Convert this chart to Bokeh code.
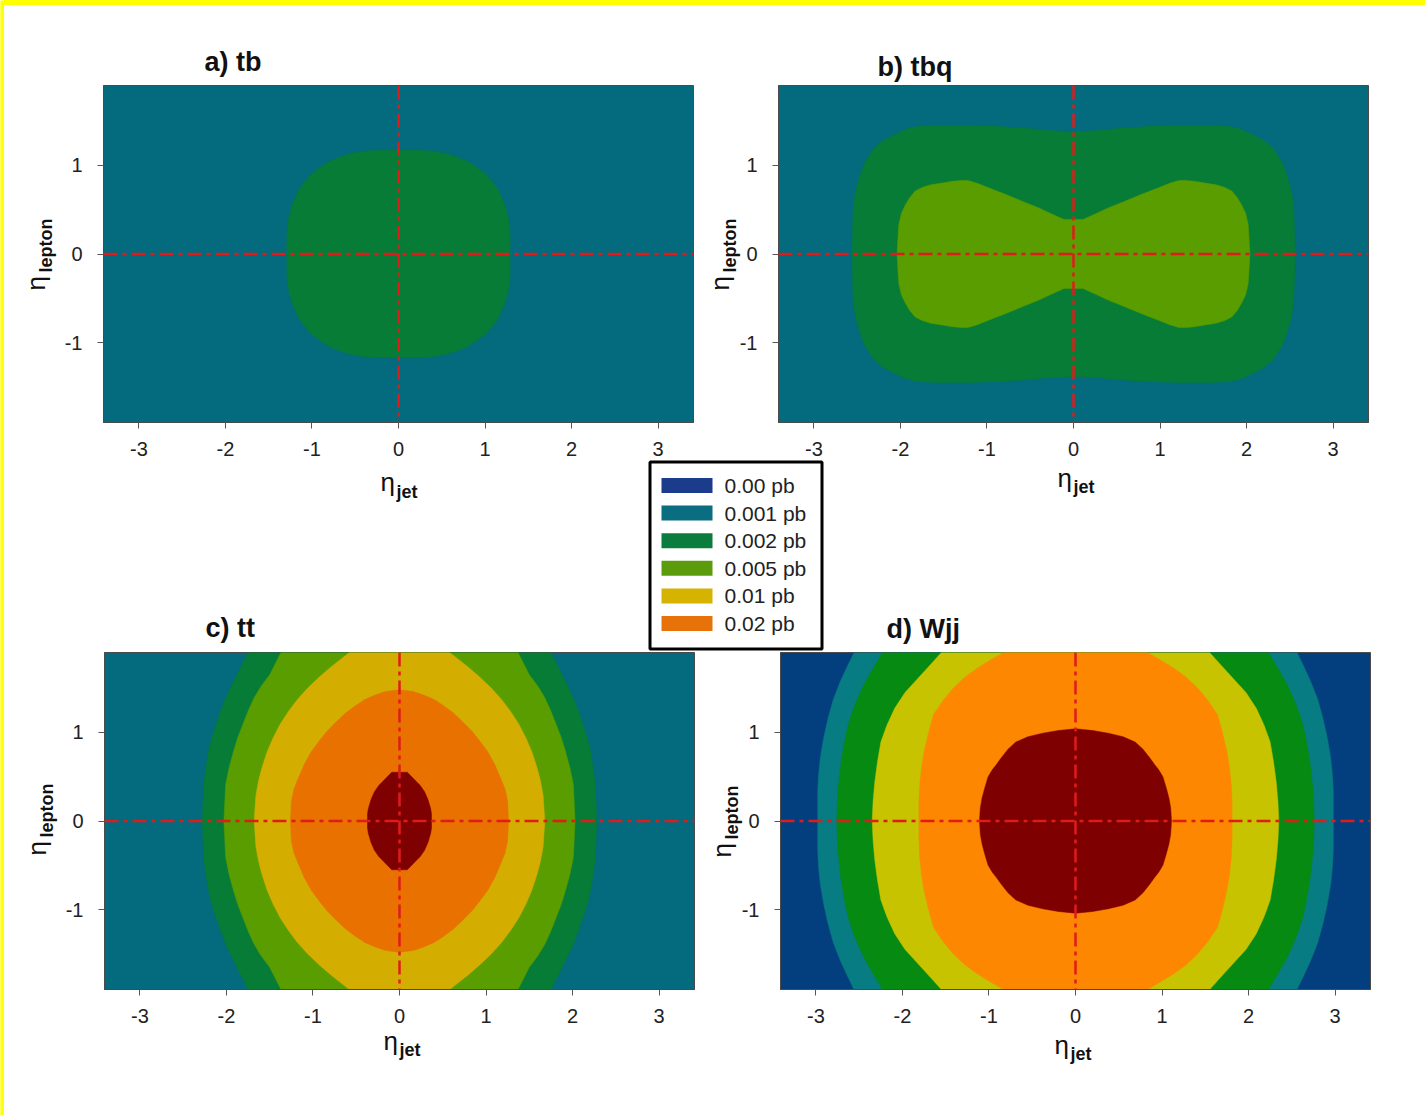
import math
from bokeh.plotting import figure
from bokeh.layouts import column, row
from bokeh.models import Range1d, Span, Div
from bokeh.core.properties import value
from bokeh.embed import file_html
from bokeh.resources import INLINE

# ---------------- data ----------------
X_TICKS = [-3, -2, -1, 0, 1, 2, 3]
X_TICK_LABELS = ["-3", "-2", "-1", "0", "1", "2", "3"]
Y_TICKS = [-1, 0, 1]
Y_TICK_LABELS = ["-1", "0", "1"]

TITLES = ["a) tb", "b) tbq", "c) tt", "d) Wjj"]
X_LABEL = ("η", "jet")
Y_LABEL = ("η", "lepton")

LEGEND_LABELS = ["0.00 pb", "0.001 pb", "0.002 pb", "0.005 pb", "0.01 pb", "0.02 pb"]
LEGEND_COLORS = ["#1b3b8b", "#0b6d80", "#0a7c3e", "#5b9c0c", "#d5b300", "#e8720a"]

# contour boundaries: first-quadrant points (eta_jet, eta_lepton), mirrored to all quadrants
# a) tb
TB_002_X = [1.29, 1.29, 1.27, 1.25, 1.21, 1.16, 1.09, 1.01, 0.90, 0.79, 0.66, 0.52, 0.38, 0.26, 0.0]
TB_002_Y = [0.0, 0.26, 0.40, 0.49, 0.60, 0.71, 0.81, 0.90, 0.98, 1.05, 1.10, 1.14, 1.16, 1.17, 1.17]
# b) tbq
TBQ_002_X = [2.56, 2.55, 2.53, 2.49, 2.42, 2.31, 2.20, 2.06, 1.93, 1.79, 1.55, 1.26, 0.90, 0.58, 0.25, 0.0]
TBQ_002_Y = [0.0, 0.44, 0.65, 0.82, 1.02, 1.19, 1.28, 1.35, 1.41, 1.44, 1.45, 1.45, 1.44, 1.42, 1.39, 1.38]
TBQ_005_X = [2.04, 2.02, 1.99, 1.94, 1.89, 1.83, 1.75, 1.65, 1.52, 1.40, 1.30, 1.22, 1.12, 0.99,
             0.78, 0.58, 0.40, 0.27, 0.11, 0.0]
TBQ_005_Y = [0.0, 0.33, 0.46, 0.56, 0.64, 0.71, 0.75, 0.78, 0.80, 0.82, 0.83, 0.83, 0.80, 0.75,
             0.67, 0.59, 0.52, 0.46, 0.39, 0.39]
# c) tt
TT_002_X = [2.28, 2.27, 2.26, 2.21, 2.17, 2.12, 2.06, 1.99, 1.88, 1.75]
TT_002_Y = [0.0, 0.25, 0.45, 0.78, 0.94, 1.09, 1.26, 1.43, 1.65, 1.9]
TT_005_X = [2.03, 2.02, 2.01, 1.97, 1.92, 1.87, 1.81, 1.75, 1.68, 1.60, 1.50, 1.37]
TT_005_Y = [0.0, 0.20, 0.41, 0.60, 0.78, 0.94, 1.09, 1.24, 1.39, 1.52, 1.65, 1.9]
TT_01_X = [1.68, 1.66, 1.63, 1.59, 1.53, 1.46, 1.38, 1.28, 1.18, 1.06, 0.93, 0.80, 0.58]
TT_01_Y = [0.0, 0.29, 0.45, 0.60, 0.78, 0.94, 1.09, 1.24, 1.37, 1.50, 1.62, 1.73, 1.9]
TT_02_X = [1.26, 1.25, 1.22, 1.17, 1.10, 1.02, 0.93, 0.84, 0.73, 0.62, 0.51, 0.40, 0.28, 0.16, 0.0]
TT_02_Y = [0.0, 0.22, 0.36, 0.48, 0.64, 0.78, 0.90, 1.01, 1.12, 1.22, 1.30, 1.37, 1.42, 1.46, 1.48]
TT_05_X = [0.37, 0.37, 0.36, 0.33, 0.29, 0.24, 0.18, 0.13, 0.09, 0.0]
TT_05_Y = [0.0, 0.08, 0.14, 0.24, 0.33, 0.40, 0.46, 0.51, 0.55, 0.55]
# d) Wjj
WJJ_001_X = [2.98, 2.98, 2.97, 2.95, 2.91, 2.86, 2.80, 2.72, 2.64, 2.56]
WJJ_001_Y = [0.0, 0.33, 0.52, 0.71, 0.94, 1.16, 1.37, 1.57, 1.74, 1.9]
WJJ_002_X = [2.76, 2.75, 2.72, 2.68, 2.63, 2.55, 2.45, 2.34, 2.23]
WJJ_002_Y = [0.0, 0.30, 0.59, 0.84, 1.08, 1.31, 1.53, 1.72, 1.9]
WJJ_005_X = [2.35, 2.34, 2.32, 2.29, 2.25, 2.18, 2.09, 1.97, 1.82, 1.68, 1.55]
WJJ_005_Y = [0.0, 0.22, 0.44, 0.66, 0.89, 1.08, 1.27, 1.45, 1.61, 1.76, 1.9]
WJJ_01_X = [1.81, 1.81, 1.80, 1.78, 1.75, 1.70, 1.64, 1.53, 1.41, 1.28, 1.14, 0.99, 0.83]
WJJ_01_Y = [0.0, 0.20, 0.41, 0.60, 0.78, 0.99, 1.20, 1.36, 1.50, 1.62, 1.72, 1.81, 1.9]
WJJ_02_X = [1.11, 1.10, 1.08, 1.05, 1.01, 0.96, 0.92, 0.86, 0.78, 0.69, 0.55, 0.38, 0.20, 0.0]
WJJ_02_Y = [0.0, 0.15, 0.26, 0.37, 0.50, 0.58, 0.63, 0.71, 0.81, 0.89, 0.95, 0.99, 1.02, 1.04]

# ---------------- style ----------------
PAGE_W, PAGE_H = 1425, 1115
PAD_L, PAD_T = 4, 5
X_MIN, X_MAX = -3.41, 3.41
Y_MIN, Y_MAX = -1.9, 1.9
FRAME_W, FRAME_H = 590, 337
FONT = "Liberation Sans"
YELLOW = "#ffff00"
RED = "#e01b1b"
TEAL = "#046a7e"
GREEN = "#077c37"
YGREEN = "#599d00"
MUSTARD = "#d3ae00"
ORANGE = "#e87100"
DARKRED = "#7e0000"
D_BLUE = "#033f7f"
D_TEAL = "#087c83"
D_GREEN = "#068a12"
D_YELLOW = "#c7c300"
D_ORANGE = "#fd8700"


def full_contour(qx, qy):
    xs = list(qx) + [-x for x in reversed(qx)] + [-x for x in qx] + list(reversed(qx))
    ys = list(qy) + list(reversed(qy)) + [-y for y in qy] + [-y for y in reversed(qy)]
    return xs, ys


def make_panel(width, height, bl, bt, bg, layers):
    p = figure(width=width, height=height, x_range=Range1d(X_MIN, X_MAX),
               y_range=Range1d(Y_MIN, Y_MAX), output_backend="svg", toolbar_location=None,
               title=None, min_border_left=bl, min_border_top=bt,
               min_border_right=width - bl - FRAME_W, min_border_bottom=height - bt - FRAME_H)
    p.background_fill_color = bg
    p.border_fill_color = "white"
    p.outline_line_color = "#4a4a4a"
    p.outline_line_width = 1
    p.grid.visible = False
    p.xaxis.ticker = X_TICKS
    p.yaxis.ticker = Y_TICKS
    p.xaxis.major_label_overrides = dict(zip(X_TICKS, X_TICK_LABELS))
    p.yaxis.major_label_overrides = dict(zip(Y_TICKS, Y_TICK_LABELS))
    p.axis.major_label_text_font = FONT
    p.axis.major_label_text_font_size = "20px"
    p.axis.major_label_text_color = "#222222"
    p.axis.major_tick_in = 0
    p.axis.major_tick_out = 6
    p.axis.minor_tick_line_color = None
    p.axis.axis_line_color = "#4a4a4a"
    p.axis.major_tick_line_color = "#555555"
    p.xaxis.major_label_standoff = 13
    p.yaxis.major_label_standoff = 15
    for qx, qy, col in layers:
        xs, ys = full_contour(qx, qy)
        p.patch(xs, ys, fill_color=col, line_color=col, line_width=0.5)
    for dim in ("height", "width"):
        p.add_layout(Span(location=0, dimension=dim, line_color=RED, line_width=2.5,
                          line_dash="14 5 4 5"))
    return p


pa = make_panel(708, 550, 99, 80, TEAL, [(TB_002_X, TB_002_Y, GREEN)])
pb = make_panel(713, 550, 66, 80, TEAL,
                [(TBQ_002_X, TBQ_002_Y, GREEN), (TBQ_005_X, TBQ_005_Y, YGREEN)])
pc = make_panel(708, 560, 100, 97, TEAL,
                [(TT_002_X, TT_002_Y, GREEN), (TT_005_X, TT_005_Y, YGREEN),
                 (TT_01_X, TT_01_Y, MUSTARD), (TT_02_X, TT_02_Y, ORANGE),
                 (TT_05_X, TT_05_Y, DARKRED)])
pd = make_panel(713, 560, 68, 97, D_BLUE,
                [(WJJ_001_X, WJJ_001_Y, D_TEAL), (WJJ_002_X, WJJ_002_Y, D_GREEN),
                 (WJJ_005_X, WJJ_005_Y, D_YELLOW), (WJJ_01_X, WJJ_01_Y, D_ORANGE),
                 (WJJ_02_X, WJJ_02_Y, DARKRED)])

# yellow page border: left strip (figure) and top strip (div)
left_strip = figure(width=PAD_L, height=PAGE_H, x_range=Range1d(0, 1), y_range=Range1d(0, 1),
                    output_backend="svg", toolbar_location=None, title=None, min_border=0,
                    x_axis_type=None, y_axis_type=None)
left_strip.grid.visible = False
left_strip.outline_line_color = None
left_strip.background_fill_color = YELLOW
left_strip.border_fill_color = YELLOW
left_strip.quad(left=[0], right=[1], bottom=[0], top=[1], fill_color=YELLOW, line_color=None)

top_strip = Div(text="", width=PAGE_W - PAD_L, height=PAD_T, margin=0,
                styles={"background-color": YELLOW, "width": f"{PAGE_W - PAD_L}px",
                        "height": f"{PAD_T}px"})

# ---------------- overlay below the top strip: titles, axis labels, legend ----------------
OV_W, OV_H = PAGE_W - PAD_L, PAGE_H - PAD_T
ov = figure(width=OV_W, height=OV_H, x_range=Range1d(PAD_L, PAGE_W), y_range=Range1d(0, OV_H),
            output_backend="svg", toolbar_location=None, title=None, min_border=0,
            x_axis_type=None, y_axis_type=None)
ov.grid.visible = False
ov.outline_line_color = None
ov.background_fill_alpha = 0
ov.border_fill_alpha = 0


def Y(py):
    # page pixel row -> overlay data y
    return PAGE_H - py


def mid(base, size):
    # canvas "middle" baseline sits 0.3 em above the alphabetic baseline
    return base - 0.3 * size


# panel titles (alphabetic baselines)
title_pos = [(204, 70), (877, 75), (205, 636), (886, 637)]
ov.text(x=[p[0] for p in title_pos], y=[Y(mid(p[1], 27)) for p in title_pos], text=TITLES,
        text_font=value(FONT), text_font_size=value("27px"), text_font_style="bold",
        text_align="left", text_baseline="middle", text_color="#111111")

# x-axis labels: eta + bold subscript "jet"  (left, alphabetic baseline of eta)
xlab_pos = [(380, 489.5), (1057, 485), (383, 1048), (1054, 1052)]
ov.text(x=[p[0] for p in xlab_pos], y=[Y(mid(p[1], 26)) for p in xlab_pos],
        text=[X_LABEL[0]] * 4, text_font=value(FONT), text_font_size=value("26px"),
        text_align="left", text_baseline="middle", text_color="#111111")
ov.text(x=[p[0] + 16 for p in xlab_pos], y=[Y(mid(p[1] + 7, 18)) for p in xlab_pos],
        text=[X_LABEL[1]] * 4, text_font=value(FONT), text_font_size=value("18px"),
        text_font_style="bold", text_align="left", text_baseline="middle",
        text_color="#111111")

# y-axis labels, rotated: (x of eta baseline, y where the text starts)
ylab_pos = [(43.5, 290), (727, 290), (44.5, 855), (729, 857)]
ov.text(x=[mid(p[0], 26) for p in ylab_pos], y=[Y(p[1]) for p in ylab_pos],
        text=[Y_LABEL[0]] * 4, angle=math.pi / 2, text_font=value(FONT),
        text_font_size=value("26px"), text_align="left", text_baseline="middle",
        text_color="#111111")
ov.text(x=[mid(p[0] + 7.5, 18) for p in ylab_pos], y=[Y(p[1] - 18) for p in ylab_pos],
        text=[Y_LABEL[1]] * 4, angle=math.pi / 2, text_font=value(FONT),
        text_font_size=value("18px"), text_font_style="bold", text_align="left",
        text_baseline="middle", text_color="#111111")

# legend box
ov.quad(left=[649.5], right=[821.5], top=[Y(461.5)], bottom=[Y(648.5)],
        fill_color="white", line_color="black", line_width=3)
n = len(LEGEND_LABELS)
leg_y = [Y(485 + 27.6 * i) for i in range(n)]
ov.rect(x=[686.5] * n, y=leg_y, width=51, height=15, fill_color=LEGEND_COLORS, line_color=None)
ov.text(x=[724] * n, y=leg_y, text=LEGEND_LABELS, text_baseline="middle",
        text_font=value(FONT), text_font_size=value("21px"), text_color="#222222")
ov.margin = (-OV_H, 0, 0, 0)

content = column(top_strip, row(pa, pb), row(pc, pd), ov)
root = row(left_strip, content)

open("out.html", "w").write(file_html(root, INLINE))
